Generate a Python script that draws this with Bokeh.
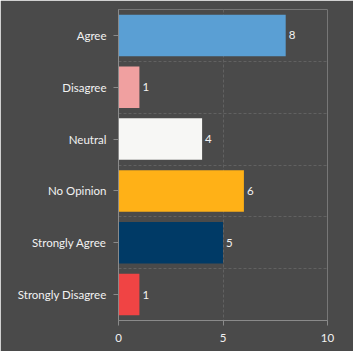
from bokeh.plotting import figure
from bokeh.models import ColumnDataSource, FixedTicker, Range1d
from bokeh.core.properties import value
from bokeh.embed import file_html
from bokeh.resources import INLINE

categories = ["Agree", "Disagree", "Neutral", "No Opinion", "Strongly Agree", "Strongly Disagree"]
counts = [8, 1, 4, 6, 5, 1]
bar_colors = ["#5a9fd4", "#f0a0a0", "#f7f7f5", "#ffb117", "#003a66", "#f04444"]
x_ticks = [0, 5, 10]

FONT = "Lato"
BG = "#4a4a4a"
TXT = "#f2f2f2"

pos = list(range(len(categories)))
src = ColumnDataSource(dict(y=pos, x=counts, c=bar_colors, lbl=[str(v) for v in counts]))

p = figure(width=353, height=351, output_backend="svg", toolbar_location=None,
           x_range=Range1d(0, 10), y_range=Range1d(len(categories) - 0.5, -0.5),
           min_border_left=118, min_border_right=26, min_border_top=9, min_border_bottom=31)
p.background_fill_color = BG
p.border_fill_color = BG
p.outline_line_color = None

p.hbar(y="y", right="x", left=0, height=0.8, color="c", line_color=None, source=src)
p.text(x="x", y="y", text="lbl", source=src, x_offset=3, text_baseline="middle",
       text_align="left", text_color=TXT, text_font=value(FONT), text_font_size="11.5px")

# axes
p.xaxis.ticker = FixedTicker(ticks=x_ticks)
p.yaxis.ticker = FixedTicker(ticks=pos)
p.yaxis.major_label_overrides = {i: c for i, c in zip(pos, categories)}
for ax in (p.xaxis[0], p.yaxis[0]):
    ax.axis_line_color = "#8a8a8a"
    ax.major_tick_line_color = "#8a8a8a"
    ax.major_tick_out = 5
    ax.major_tick_in = 0
    ax.minor_tick_line_color = None
    ax.major_label_text_color = TXT
    ax.major_label_text_font = FONT
    ax.major_label_text_font_size = "11.5px"
p.xaxis.major_label_standoff = 8
p.yaxis.major_label_standoff = 7

# grids
p.xgrid.ticker = FixedTicker(ticks=[5, 10])
p.ygrid.ticker = FixedTicker(ticks=[i - 0.5 for i in pos])
for g in (p.xgrid[0], p.ygrid[0]):
    g.grid_line_color = "#616161"
    g.grid_line_dash = "3 2"
    g.grid_line_width = 1

open("out.html", "w").write(file_html(p, INLINE))
